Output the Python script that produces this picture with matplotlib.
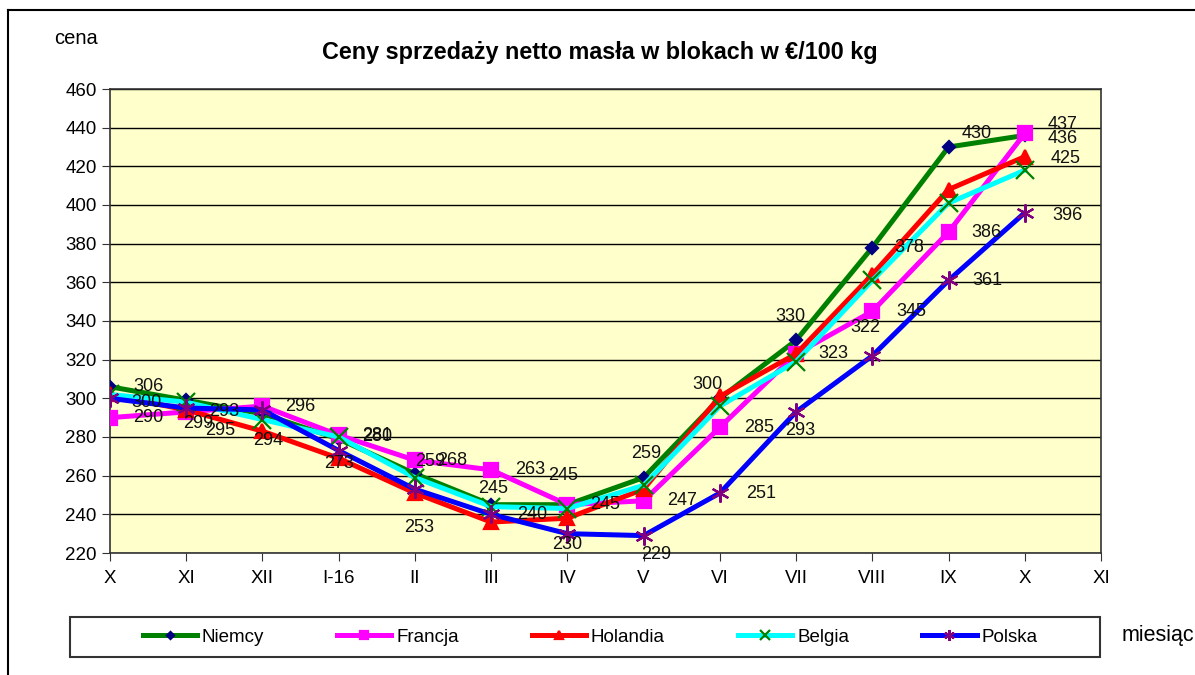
import numpy as np
import matplotlib
matplotlib.use("Agg")
import matplotlib.pyplot as plt
from matplotlib.lines import Line2D
from matplotlib.patches import Rectangle

plt.rcParams['font.family'] = ['Liberation Sans', 'DejaVu Sans']

# dane
miesiace = ['X', 'XI', 'XII', 'I-16', 'II', 'III', 'IV', 'V', 'VI', 'VII', 'VIII', 'IX', 'X', 'XI']
niemcy = [306, 299, 292, 279, 261, 245, 245, 259, 300, 330, 378, 430, 436]
francja = [290, 293, 296, 281, 268, 263, 245, 247, 285, 323, 345, 386, 437]
holandia = [302, 294, 283, 269, 251, 236, 238, 253, 301, 323, 364, 408, 425]
belgia = [302, 298, 289, 280, 259, 244, 243, 255, 296, 319, 361, 401, 418]
polska = [300, 295, 294, 273, 253, 240, 230, 229, 251, 293, 322, 361, 396]
kraje = ['Niemcy', 'Francja', 'Holandia', 'Belgia', 'Polska']
serie = [niemcy, francja, holandia, belgia, polska]

# styl serii
kolory = ['#008000', '#FF00FF', '#FF0000', '#00FFFF', '#0000FF']
markery = ['D', 's', '^', 'x', (6, 2, 0)]
kolory_mark = ['#000080', '#FF00FF', '#FF0000', '#008000', '#800080']
rozm_mark = [6, 10, 10, 13, 13]

# etykiety danych: (seria, indeks miesiaca, dx, dy) w pikselach
etykiety = [
    (0, 0, 38, 0), (0, 1, 12, -23), (0, 5, 2, 16), (0, 6, -4, 29), (0, 7, 3, 24),
    (0, 8, -12, 14), (0, 9, -6, 24), (0, 10, 37, 0), (0, 11, 28, 14), (0, 12, 38, -3),
    (1, 0, 38, 0), (1, 1, 38, 0), (1, 2, 38, 0), (1, 3, 38, 0), (1, 4, 37, 0),
    (1, 5, 39, 0), (1, 6, 38, 0), (1, 7, 38, 0), (1, 8, 39, 0), (1, 10, 39, 0),
    (1, 11, 38, 0), (1, 12, 38, 9),
    (2, 9, 37, 0), (2, 12, 41, -2),
    (3, 3, 38, 0), (3, 4, 15, 16),
    (4, 0, 36, -4), (4, 1, 34, -23), (4, 2, 6, -31), (4, 3, 0, -13), (4, 4, 4, -38),
    (4, 5, 41, 0), (4, 6, 0, -11), (4, 7, 13, -19), (4, 8, 41, 0), (4, 9, 4, -19),
    (4, 10, -7, 28), (4, 11, 39, 0), (4, 12, 43, -3),
]

fig = plt.figure(figsize=(11.95, 6.75), dpi=100)
ax = fig.add_axes([110 / 1195, 1 - 553 / 675, 991 / 1195, 464 / 675])
ax.set_facecolor('#FFFFCC')

x = np.arange(len(niemcy))
for i in range(len(serie)):
    ax.plot(x, serie[i], color=kolory[i], lw=3.6, marker=markery[i],
            markersize=rozm_mark[i], markerfacecolor=kolory_mark[i],
            markeredgecolor=kolory_mark[i], markeredgewidth=1.6,
            label=kraje[i], zorder=3 + i)

for s, j, dx, dy in etykiety:
    ax.annotate(str(serie[s][j]), (x[j], serie[s][j]), xytext=(dx, dy),
                textcoords='offset pixels', ha='center', va='center',
                fontsize=13, color='#111111', zorder=10)

ax.set_xlim(0, 13)
ax.set_ylim(220, 460)
ax.set_yticks(np.arange(220, 461, 20))
ax.set_xticks(np.arange(len(miesiace)))
ax.set_xticklabels(miesiace)
ax.tick_params(axis='both', labelsize=13.5, direction='out', length=6, color='#333333')
ax.tick_params(axis='x', pad=6)
ax.yaxis.grid(True, color='black', lw=1.0)
ax.set_axisbelow(True)
for sp in ax.spines.values():
    sp.set_color('#333333')
    sp.set_linewidth(1.2)

fig.text(600 / 1195, 1 - 52 / 675, 'Ceny sprzedaży netto masła w blokach w €/100 kg',
         ha='center', va='center', fontsize=16.8, fontweight='bold')
fig.text(76 / 1195, 1 - 38 / 675, 'cena', ha='center', va='center', fontsize=14.5)
fig.text(1122 / 1195, 1 - 636 / 675, 'miesiąc', ha='left', va='center', fontsize=15.5)

# ramka wykresu
fig.add_artist(Line2D([8 / 1195, 1.0], [1 - 10 / 675, 1 - 10 / 675], color='black', lw=1.5))
fig.add_artist(Line2D([8 / 1195, 8 / 1195], [0.0, 1 - 10 / 675], color='black', lw=1.5))

# legenda
fig.add_artist(Rectangle((70 / 1195, 1 - 657 / 675), 1030 / 1195, 40 / 675,
                         transform=fig.transFigure, fill=False,
                         edgecolor='#333333', lw=1.5))
fig.legend(loc='center', bbox_to_anchor=(590 / 1195, 1 - 637 / 675), ncol=5,
           frameon=False, fontsize=13.5, handlelength=2.9, handletextpad=0.25,
           columnspacing=3.9, markerscale=0.6)

fig.savefig('out.png', dpi=100)
